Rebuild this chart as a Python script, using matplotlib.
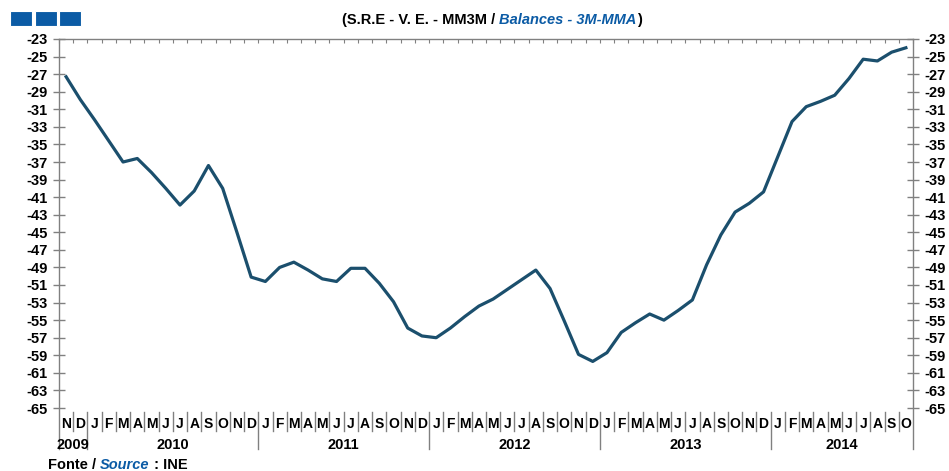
"""
S.R.E - V.E. balances, 3-month moving average (Nov 2009 - Oct 2014).
"""

import matplotlib.pyplot as plt
import matplotlib.patches as mpatches
import numpy as np

plt.rcParams["font.family"] = ["Liberation Sans", "DejaVu Sans"]

# --- Data ---
months = (["N", "D"]
          + ["J", "F", "M", "A", "M", "J", "J", "A", "S", "O", "N", "D"] * 4
          + ["J", "F", "M", "A", "M", "J", "J", "A", "S", "O"])
years = ["2009", "2010", "2011", "2012", "2013", "2014"]
months_per_year = [2, 12, 12, 12, 12, 10]

balance = [
    -27.3, -29.9, -32.2, -34.6, -37.0, -36.6, -38.2, -40.0, -41.9, -40.3, -37.4, -40.0,   # N09..O10
    -45.0, -50.1, -50.6, -49.0, -48.4, -49.3, -50.3, -50.6, -49.1, -49.1, -50.8, -52.9,   # N10..O11
    -55.9, -56.8, -57.0, -55.9, -54.6, -53.4, -52.6, -51.5, -50.4, -49.3, -51.4, -55.1,   # N11..O12
    -58.9, -59.7, -58.7, -56.4, -55.3, -54.3, -55.0, -53.9, -52.7, -48.7, -45.3, -42.7,   # N12..O13
    -41.7, -40.4, -36.4, -32.4, -30.7, -30.1, -29.4, -27.5, -25.3, -25.5, -24.5, -24.0,   # N13..O14
]

LINE = "#1b4f6d"
AXIS = "#808080"
BLUE = "#0b5ba5"

x = np.arange(len(balance))

fig = plt.figure(figsize=(9.49, 4.71), dpi=100)
ax = fig.add_axes([59 / 949, 63 / 471, 854 / 949, 369 / 471])

ax.plot(x, balance, color=LINE, lw=2.3, solid_joinstyle="round")

ax.set_xlim(-0.5, len(balance) - 0.5)
ax.set_ylim(-65, -23)

# --- y axis on both sides ---
yt = list(range(-65, -22, 2))
ax.set_yticks(yt)
ax.set_yticklabels([str(v) for v in yt], fontsize=10.5, fontweight="bold")
ax.tick_params(axis="y", which="both", direction="inout", length=8, width=1,
               color=AXIS, left=True, right=True, labelleft=True,
               labelright=True, pad=4)

# top spine with month ticks pointing in
ax.set_xticks(np.arange(-0.5, len(balance) + 0.5, 1))
ax.tick_params(axis="x", direction="in", length=3, color=AXIS, top=True,
               bottom=False, labelbottom=False, labeltop=False)

ax.spines["bottom"].set_visible(False)
for side in ["left", "right", "top"]:
    ax.spines[side].set_color(AXIS)
    ax.spines[side].set_linewidth(1)
ax.spines["left"].set_bounds(-69.7, -23)
ax.spines["right"].set_bounds(-69.7, -23)

# --- month letters and separators below the plot ---
for i, m in enumerate(months):
    ax.text(i, -66.8, m, ha="center", va="center", fontsize=10,
            fontweight="bold", clip_on=False)

start = 0
for yr, n in zip(years, months_per_year):
    ax.text(start + (n - 1) / 2, -69.2, yr, ha="center", va="center",
            fontsize=10.5, fontweight="bold", clip_on=False)
    start += n

year_starts = np.cumsum(months_per_year)[:-1]
for b in range(1, len(balance)):
    bottom = -69.7 if b in year_starts else -67.6
    ax.plot([b - 0.5, b - 0.5], [-65.5, bottom], color=AXIS, lw=1,
            clip_on=False)

# --- title in two colours ---
t1 = fig.text(342 / 949, 1 - 20 / 471, "(S.R.E - V. E. - MM3M / ",
              fontsize=10.5, fontweight="bold", va="center", ha="left")
t2 = ax.annotate("Balances - 3M-MMA", xy=(1, 0), xycoords=t1, va="bottom",
                 fontsize=10.5, fontweight="bold", style="italic", color=BLUE)
ax.annotate(")", xy=(1, 0), xycoords=t2, va="bottom", fontsize=10.5,
            fontweight="bold")

# --- source footer ---
f1 = fig.text(48 / 949, 1 - 465 / 471, "Fonte / ", fontsize=10.5,
              fontweight="bold", va="center", ha="left")
f2 = ax.annotate("Source", xy=(1, 0), xycoords=f1, va="bottom",
                 fontsize=10.5, fontweight="bold", style="italic", color=BLUE)
ax.annotate(" : INE", xy=(1, 0), xycoords=f2, va="bottom", fontsize=10.5,
            fontweight="bold")

# --- three blue squares, top left ---
for x0 in [10, 35, 59]:
    fig.patches.append(mpatches.Rectangle(
        (x0 / 949, 1 - 26 / 471), 22 / 949, 15 / 471,
        transform=fig.transFigure, facecolor=BLUE, edgecolor="white",
        lw=0.8, zorder=5))

fig.savefig("out.png", dpi=100)
